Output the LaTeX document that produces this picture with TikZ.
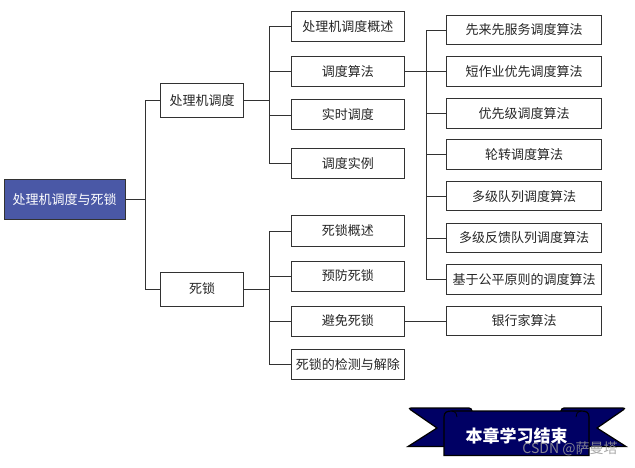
\documentclass[tikz,border=0pt]{standalone}
\usepackage{fontspec}
\setmainfont{Noto Sans CJK SC}
\newfontfamily\cjk{Noto Sans CJK SC}
\definecolor{rootblue}{RGB}{74,88,166}
\definecolor{navy}{RGB}{0,0,100}
\definecolor{edgegray}{RGB}{50,50,50}
\begin{document}
\begin{tikzpicture}[x=1pt,y=-1pt,
  box/.style={draw=edgegray,line width=1pt,fill=white,inner sep=0pt,
    font=\cjk\fontsize{13}{13}\selectfont,text=black!85},
  lone/.style={box,minimum width=83.4pt,minimum height=34pt},
  ltwo/.style={box,minimum width=113pt,minimum height=30pt},
  lthree/.style={box,minimum width=155.7pt,minimum height=29.5pt},
  conn/.style={draw=edgegray,line width=0.9pt}]
\useasboundingbox (0,0) rectangle (635,468);
% connectors first
\coordinate (s1) at (145.3,0);
\coordinate (s2) at (269.3,0);
\coordinate (s3) at (426.7,0);
% nodes
\node[box,fill=rootblue,text=white,minimum width=120.7pt,minimum height=40pt,font=\cjk\fontsize{13}{13}\selectfont] (root) at (64.7,199.3) {处理机调度与死锁};
\node[lone] (pa) at (202,100.3) {处理机调度};
\node[lone] (pb) at (202,289) {死锁};
\node[ltwo] (a1) at (347.9,26.7) {处理机调度概述};
\node[ltwo] (a2) at (347.9,71.7) {调度算法};
\node[ltwo] (a3) at (347.9,115) {实时调度};
\node[ltwo] (a4) at (347.9,163.3) {调度实例};
\node[ltwo] (b1) at (347.9,231) {死锁概述};
\node[ltwo] (b2) at (347.9,276) {预防死锁};
\node[ltwo] (b3) at (347.9,321) {避免死锁};
\node[ltwo] (b4) at (347.9,364.3) {死锁的检测与解除};
\node[lthree] (c1) at (524,30) {先来先服务调度算法};
\node[lthree] (c2) at (524,71.7) {短作业优先调度算法};
\node[lthree] (c3) at (524,113.7) {优先级调度算法};
\node[lthree] (c4) at (524,154.7) {轮转调度算法};
\node[lthree] (c5) at (524,196.2) {多级队列调度算法};
\node[lthree] (c6) at (524,238) {多级反馈队列调度算法};
\node[lthree] (c7) at (524,279.5) {基于公平原则的调度算法};
\node[lthree] (d1) at (524,321) {银行家算法};
% connectors
\draw[conn] (root.east) -- (root.east -| s1);
\draw[conn] (root.east -| s1) |- (pa.west);
\draw[conn] (root.east -| s1) |- (pb.west);
\draw[conn] (pa.east) -- (pa.east -| s2);
\foreach \n in {a1,a2,a3,a4} \draw[conn] (pa.east -| s2) |- (\n.west);
\draw[conn] (pb.east) -- (pb.east -| s2);
\foreach \n in {b1,b2,b3,b4} \draw[conn] (pb.east -| s2) |- (\n.west);
\draw[conn] (a2.east) -- (a2.east -| s3);
\foreach \n in {c1,c2,c3,c4,c5,c6,c7} \draw[conn] (a2.east -| s3) |- (\n.west);
\draw[conn] (b3.east) -- (d1.west);
% banner
\filldraw[fill=navy,draw=black,line width=1.2pt,rounded corners=3pt]
  (472,416) -- (472,408) -- (408,408) [sharp corners] -- (437,428) -- (408,446.5) -- (460,446.5) -- cycle;
\filldraw[fill=navy,draw=black,line width=1.2pt,rounded corners=3pt]
  (561,416) -- (561,408) -- (626,408) [sharp corners] -- (597,428) -- (626,446.5) -- (575,446.5) -- cycle;
\filldraw[fill=navy,draw=black,line width=1.2pt]
  (444,455.5) -- (444,417) .. controls (444,412) and (447,411) .. (452,411)
  -- (581,411) .. controls (586,411) and (589,412) .. (589,417) -- (589,455.5) -- cycle;
\draw[black,line width=0.8pt] (452,411) .. controls (456,412) and (457,414) .. (457,417);
\draw[black,line width=0.8pt] (581,411) .. controls (577,412) and (576,414) .. (576,417);
\node[text=white,font=\cjk\bfseries\fontsize{17}{17}\selectfont,inner sep=0pt] (banner) at (516.5,435.5) {本章学习结束};
\node[text=gray!80,font=\cjk\fontsize{14}{14}\selectfont,inner sep=0pt,opacity=0.85] (wm) at (570,449) {CSDN @萨曼塔};
\end{tikzpicture}
\end{document}
